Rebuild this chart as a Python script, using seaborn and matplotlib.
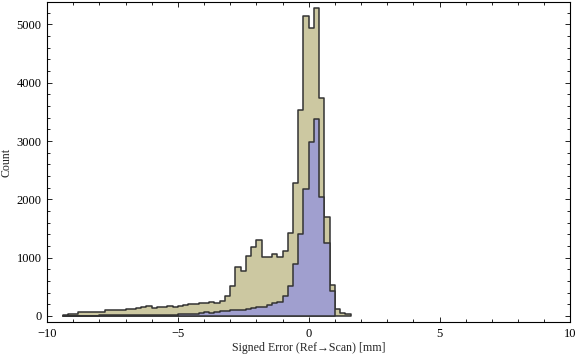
import numpy as np
import pandas as pd
import matplotlib
matplotlib.use("Agg")
import matplotlib.pyplot as plt
import seaborn as sns
from matplotlib.ticker import MultipleLocator

# histogram binning (mm)
bin_start = -9.4
bin_width = 0.2

# counts per bin, first bin starts at bin_start
all_counts = [
    12, 29, 29, 63, 63, 63, 63, 74, 97, 97,
    97, 97, 114, 125, 137, 154, 172, 143, 154, 154,
    166, 154, 166, 183, 200, 212, 229, 215, 246, 229,
    263, 349, 509, 846, 777, 1034, 1189, 1297, 1017, 1017,
    1069, 1017, 1109, 1417, 2286, 3526, 5137, 4943, 5286, 3743,
    1697, 537, 126, 57, 29,
]
subset_counts = [
    6, 6, 6, 6, 6, 6, 6, 8, 8, 8,
    8, 10, 17, 17, 17, 17, 17, 17, 17, 23,
    23, 23, 29, 29, 34, 40, 57, 63, 57, 74,
    80, 86, 97, 97, 109, 126, 143, 160, 160, 194,
    229, 246, 349, 509, 897, 1406, 2177, 2983, 3377, 2040,
    1257, 423,
]

x_label = "Signed Error (Ref\u2192Scan) [mm]"
y_label = "Count"


def bins_for(counts):
    edges = bin_start + bin_width * np.arange(len(counts) + 1)
    centers = edges[:-1] + bin_width / 2
    return list(edges), pd.DataFrame({"err": centers, "n": counts})


sns.set_style("ticks")
plt.rcParams["font.family"] = ["Liberation Serif", "DejaVu Serif"]

fig = plt.figure(figsize=(5.76, 3.62), dpi=100)
ax = fig.add_axes([0.0816, 0.1097, 0.9087, 0.8848])

for counts, color in [(all_counts, "#CCC8A1"), (subset_counts, "#A09FCF")]:
    edges, df = bins_for(counts)
    sns.histplot(data=df, x="err", weights="n", bins=edges, element="step",
                 fill=True, color=color, alpha=1, edgecolor="#333333",
                 linewidth=1.1, ax=ax)

ax.set_xlim(-10, 10)
ax.set_ylim(-110, 5385)
ax.xaxis.set_major_locator(MultipleLocator(5))
ax.xaxis.set_minor_locator(MultipleLocator(1))
ax.yaxis.set_major_locator(MultipleLocator(1000))
ax.yaxis.set_minor_locator(MultipleLocator(200))

ax.tick_params(which="both", direction="in", top=True, right=True,
               colors="black", labelsize=9, width=0.6)
ax.tick_params(which="major", length=3.8, pad=4)
ax.tick_params(which="minor", length=2.2)
for s in ax.spines.values():
    s.set_color("black")
    s.set_linewidth(0.8)

ax.set_xlabel(x_label, fontsize=8.6)
ax.set_ylabel(y_label, fontsize=8.6)
ax.xaxis.set_label_coords(0.5, -0.06)
ax.yaxis.set_label_coords(-0.066, 0.5)

fig.savefig("out.png", dpi=100)
